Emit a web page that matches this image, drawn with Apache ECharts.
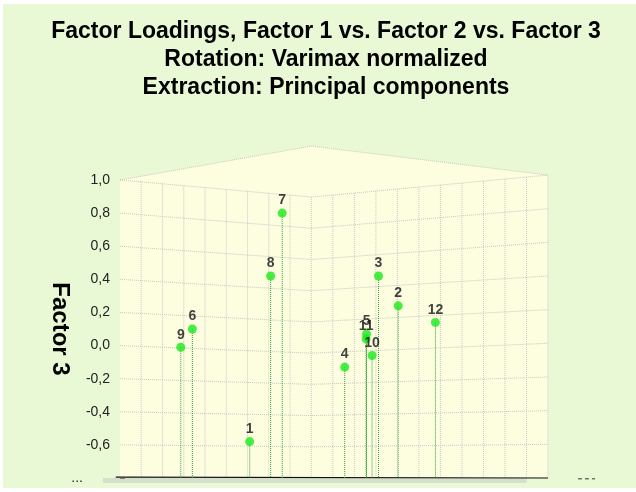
<!DOCTYPE html>
<html><head><meta charset="utf-8">
<script src="https://cdn.jsdelivr.net/npm/echarts@6/dist/echarts.min.js"></script>
<style>html,body{margin:0;padding:0;background:#ffffff}#c{position:absolute;left:3px;top:4px;width:633px;height:484px}</style>
</head><body><div id="c"></div>
<script>
// ---- data ----
const variableLabels = ['1', '2', '3', '4', '5', '6', '7', '8', '9', '10', '11', '12'];
// horizontal position of each variable in the projected 3D view (Factor 1 / Factor 2 plane)
const projectedX = [0.303, 0.650, 0.604, 0.525, 0.576, 0.169, 0.379, 0.352, 0.142, 0.589, 0.575, 0.737];
const factor3 = [-0.58, 0.24, 0.42, -0.13, 0.07, 0.10, 0.80, 0.42, -0.01, -0.06, 0.04, 0.14];
const yTickValues = [-0.8, -0.6, -0.4, -0.2, 0.0, 0.2, 0.4, 0.6, 0.8, 1.0];

// ---- 3D box layout (in axis units) ----
const box = {
  cornerX: 0.447, floor: -0.8, top: 1.0,
  wallTopCorner: 1.205, wallTopRight: 1.03,
  gridTopCorner: 0.897, gridTopRight: 1.03,
  leftDivs: 9, rightDivs: 11
};

const chart = echarts.init(document.getElementById('c'));
const FONT = 'Liberation Sans, Arial, sans-serif';
const lerp = (a, b, t) => a + (b - a) * t;
const cornerLevel = v => box.floor + (v - box.floor) * (box.gridTopCorner - box.floor) / (box.top - box.floor);
const rightLevel = v => box.floor + (v - box.floor) * (box.gridTopRight - box.floor) / (box.top - box.floor);

const gridStyle = { stroke: '#c8c8c8', lineWidth: 1, lineDash: [1, 1] };

function renderBox(params, api) {
  const c = (x, y) => api.coord([x, y]);
  const ch = [];
  const cx = box.cornerX, f = box.floor;
  // walls
  ch.push({ type: 'polygon', shape: { points: [c(0, f), c(0, box.top), c(cx, box.wallTopCorner), c(1, box.wallTopRight), c(1, f)] },
    style: { fill: '#fdfde0', stroke: null } });
  ch.push({ type: 'polyline', shape: { points: [c(0, box.top), c(cx, box.wallTopCorner), c(1, box.wallTopRight), c(1, f)] },
    style: Object.assign({ fill: null }, gridStyle) });
  // horizontal grid lines
  yTickValues.forEach(v => {
    if (v <= f) return;
    ch.push({ type: 'polyline', shape: { points: [c(0, v), c(cx, cornerLevel(v)), c(1, rightLevel(v))] },
      style: Object.assign({ fill: null }, gridStyle) });
  });
  // vertical grid lines
  for (let i = 1; i <= box.leftDivs; i++) {
    const t = i / box.leftDivs;
    const a = c(cx * t, lerp(box.top, box.gridTopCorner, t)), b = c(cx * t, f);
    ch.push({ type: 'line', shape: { x1: a[0], y1: a[1], x2: b[0], y2: b[1] }, style: gridStyle });
  }
  for (let j = 1; j < box.rightDivs; j++) {
    const t = j / box.rightDivs, x = lerp(cx, 1, t);
    const a = c(x, lerp(box.gridTopCorner, box.gridTopRight, t)), b = c(x, f);
    ch.push({ type: 'line', shape: { x1: a[0], y1: a[1], x2: b[0], y2: b[1] }, style: gridStyle });
  }
  // floor (seen edge-on)
  ch.push({ type: 'polygon', shape: { points: [c(-0.04, f), c(0.95, f), c(0.95, f - 0.03), c(-0.04, f - 0.03)] },
    style: { fill: 'rgba(195,195,195,0.5)' } });
  const fl = [c(-0.01, f + 0.005), c(1.0, f)];
  ch.push({ type: 'line', shape: { x1: fl[0][0], y1: fl[0][1], x2: fl[1][0], y2: fl[1][1] }, style: { stroke: '#111', lineWidth: 1.2 } });
  const d1 = c(1.07, f - 0.005), d2 = c(1.11, f - 0.005);
  ch.push({ type: 'line', shape: { x1: d1[0], y1: d1[1], x2: d2[0], y2: d2[1] }, style: { stroke: '#333', lineWidth: 1, lineDash: [4, 3] } });
  return { type: 'group', children: ch };
}

function renderDrop(params, api) {
  const p = api.coord([api.value(0), api.value(1)]);
  const b = api.coord([api.value(0), box.floor]);
  return { type: 'line', shape: { x1: p[0], y1: p[1], x2: b[0], y2: b[1] },
    style: { stroke: '#2f9f2f', lineWidth: 1, lineDash: [1, 1] } };
}

const pts = projectedX.map((x, i) => [x, factor3[i], variableLabels[i]]);

chart.setOption({
  backgroundColor: '#eaf9d5',
  animation: false,
  title: {
    text: 'Factor Loadings, Factor 1 vs. Factor 2 vs. Factor 3\nRotation: Varimax normalized\nExtraction: Principal components',
    left: 318, top: 9, textAlign: 'center',
    textStyle: { fontFamily: FONT, fontSize: 23, fontWeight: 'bold', color: '#000', lineHeight: 28 }
  },
  grid: { left: 117, right: 88, top: 176, bottom: 10 },
  xAxis: { type: 'value', min: 0, max: 1, show: false },
  yAxis: {
    type: 'value', min: -0.8, max: 1.0, interval: 0.2,
    name: 'Factor 3', nameLocation: 'middle', nameRotate: -90, nameGap: 48, nameMoveOverlap: false,
    nameTextStyle: { fontFamily: FONT, fontSize: 24, fontWeight: 'bold', color: '#000' },
    axisLine: { show: true, lineStyle: { color: '#444', width: 1 } },
    axisTick: { show: true, inside: true, length: 5, lineStyle: { color: '#444' } },
    splitLine: { show: false },
    axisLabel: {
      fontFamily: FONT, fontSize: 14, color: '#222', margin: 10,
      formatter: v => Math.abs(v + 0.8) < 1e-9 ? '{d|...}' : v.toFixed(1).replace('.', ','),
      rich: { d: { fontFamily: FONT, fontSize: 14, color: '#222', padding: [0, 27, 0, 0] } }
    }
  },
  series: [
    { type: 'custom', silent: true, z: 1, clip: false, data: [[0, 0]], renderItem: renderBox },
    { type: 'custom', silent: true, z: 2, data: pts, encode: { x: 0, y: 1 }, renderItem: renderDrop },
    {
      type: 'scatter', z: 3, data: pts, symbol: 'circle', symbolSize: 9,
      itemStyle: { color: '#19ea19' },
      label: { show: true, position: 'top', distance: 1, formatter: p => p.data[2],
        fontFamily: FONT, fontSize: 14, fontWeight: 'bold', color: '#111' }
    }
  ]
});
</script></body></html>
